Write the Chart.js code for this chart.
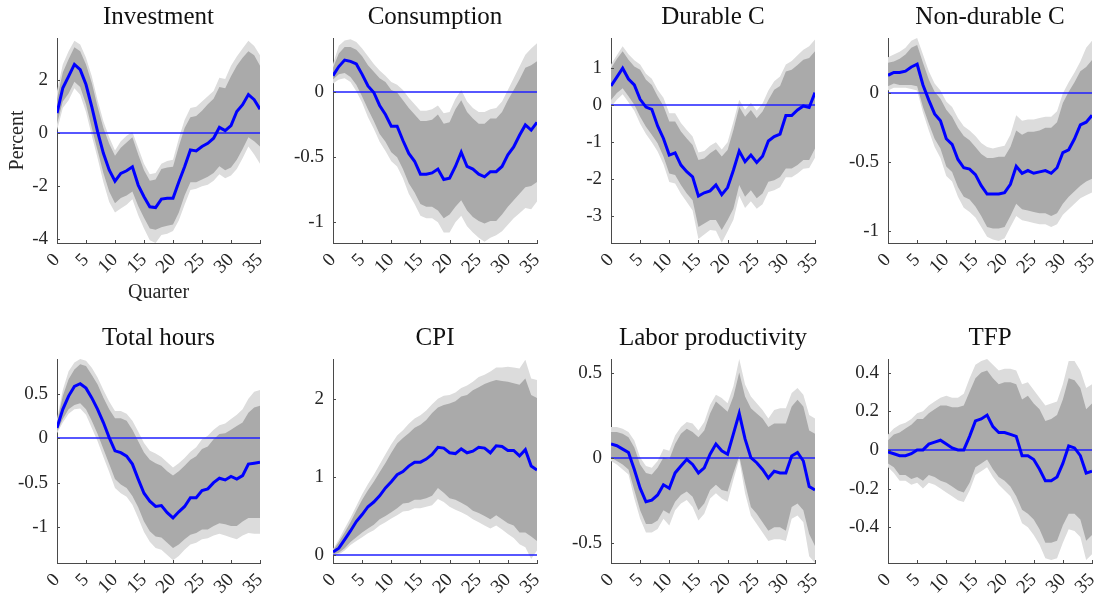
<!DOCTYPE html>
<html>
<head>
<meta charset="utf-8">
<script src="https://cdn.jsdelivr.net/npm/chart.js@4.4.0/dist/chart.umd.min.js"></script>
<style>
  body { margin: 0; background: #fff; }
  #wrap { position: relative; width: 1105px; height: 598px; overflow: hidden; }
  canvas { position: absolute; }
</style>
</head>
<body>
<div id="wrap"></div>
<script>
// horizon (quarters) and tick labels
const quarters = [0,1,2,3,4,5,6,7,8,9,10,11,12,13,14,15,16,17,18,19,20,21,22,23,24,25,26,27,28,29,30,31,32,33,34,35];
const xTicks = [0, 5, 10, 15, 20, 25, 30, 35];

// Investment
const invMid  = [0.76,1.71,2.15,2.6,2.4,1.84,1.0,0.06,-0.76,-1.39,-1.81,-1.52,-1.42,-1.27,-1.96,-2.4,-2.78,-2.81,-2.49,-2.46,-2.46,-1.84,-1.27,-0.63,-0.67,-0.5,-0.38,-0.19,0.22,0.1,0.29,0.82,1.08,1.46,1.27,0.91];
const invHi68 = [1.3,2.3,2.8,3.25,3.1,2.6,1.9,1.0,0.2,-0.4,-0.85,-0.55,-0.35,-0.15,-0.8,-1.4,-1.8,-1.75,-1.35,-1.3,-1.27,-0.5,0.2,0.6,0.65,0.85,1.1,1.3,1.75,1.7,2.15,2.55,2.85,3.1,2.95,2.55];
const invHi90 = [1.6,2.6,3.1,3.5,3.35,2.85,2.15,1.25,0.45,-0.15,-0.65,-0.3,-0.1,0.05,-0.55,-1.15,-1.55,-1.5,-1.15,-1.05,-1.0,-0.2,0.5,0.95,1.0,1.2,1.4,1.6,2.1,2.05,2.55,2.9,3.2,3.5,3.3,2.95];
const invLo68 = [0.35,1.2,1.5,1.95,1.75,1.1,0.2,-0.65,-1.5,-2.2,-2.65,-2.45,-2.35,-2.2,-2.75,-3.2,-3.6,-3.65,-3.55,-3.5,-3.45,-3.0,-2.35,-1.85,-1.85,-1.75,-1.65,-1.5,-1.25,-1.4,-1.3,-1.0,-0.6,-0.15,-0.3,-0.5];
const invLo90 = [0.1,0.95,1.25,1.7,1.45,0.8,-0.1,-0.95,-1.85,-2.6,-3.0,-2.85,-2.7,-2.5,-3.1,-3.6,-4.05,-4.15,-3.85,-3.8,-3.7,-3.3,-2.7,-2.15,-2.1,-2.0,-1.95,-1.8,-1.55,-1.7,-1.6,-1.35,-0.95,-0.5,-0.8,-1.15];

// Consumption
const conMid  = [0.13,0.2,0.25,0.24,0.22,0.14,0.05,0.0,-0.1,-0.17,-0.26,-0.26,-0.37,-0.47,-0.53,-0.63,-0.63,-0.62,-0.59,-0.67,-0.66,-0.57,-0.46,-0.57,-0.59,-0.63,-0.65,-0.61,-0.61,-0.57,-0.48,-0.42,-0.33,-0.25,-0.29,-0.23];
const conHi68 = [0.19,0.3,0.35,0.35,0.33,0.28,0.21,0.16,0.11,0.08,0.02,0.0,-0.06,-0.12,-0.17,-0.22,-0.22,-0.21,-0.17,-0.24,-0.23,-0.13,-0.06,-0.15,-0.2,-0.24,-0.24,-0.2,-0.2,-0.15,-0.06,0.02,0.1,0.19,0.21,0.24];
const conHi90 = [0.22,0.36,0.4,0.41,0.39,0.34,0.28,0.22,0.17,0.13,0.08,0.06,0.02,-0.04,-0.09,-0.14,-0.14,-0.13,-0.1,-0.16,-0.15,-0.05,0.02,-0.07,-0.12,-0.15,-0.15,-0.13,-0.12,-0.07,0.02,0.11,0.2,0.29,0.34,0.38];
const conLo68 = [0.1,0.14,0.15,0.12,0.06,-0.03,-0.13,-0.22,-0.32,-0.38,-0.46,-0.5,-0.59,-0.7,-0.77,-0.86,-0.88,-0.88,-0.91,-0.97,-0.94,-0.88,-0.83,-0.91,-0.96,-0.99,-1.01,-0.99,-0.99,-0.94,-0.88,-0.83,-0.78,-0.73,-0.72,-0.69];
const conLo90 = [0.07,0.1,0.11,0.08,0.01,-0.08,-0.19,-0.28,-0.38,-0.45,-0.53,-0.57,-0.66,-0.78,-0.86,-0.95,-0.97,-0.97,-1.0,-1.08,-1.08,-1.0,-0.95,-1.03,-1.08,-1.12,-1.15,-1.12,-1.1,-1.07,-1.02,-0.97,-0.93,-0.89,-0.9,-0.84];

// Durable C
const durMid  = [0.52,0.76,1.0,0.71,0.55,0.16,-0.05,-0.11,-0.56,-0.9,-1.35,-1.29,-1.62,-1.8,-1.94,-2.46,-2.37,-2.32,-2.16,-2.42,-2.23,-1.76,-1.24,-1.53,-1.35,-1.55,-1.38,-0.97,-0.85,-0.78,-0.28,-0.28,-0.13,-0.02,-0.06,0.34];
const durHi68 = [1.0,1.25,1.46,1.23,1.05,0.96,0.69,0.55,0.24,-0.02,-0.44,-0.44,-0.71,-0.9,-1.08,-1.48,-1.44,-1.3,-1.19,-1.39,-1.21,-0.67,-0.04,-0.31,-0.13,-0.35,-0.17,0.14,0.42,0.52,0.91,0.96,1.09,1.23,1.28,1.46];
const durHi90 = [1.1,1.35,1.6,1.38,1.22,1.1,0.85,0.72,0.42,0.2,-0.22,-0.22,-0.48,-0.67,-0.85,-1.28,-1.24,-1.1,-1.0,-1.2,-1.0,-0.45,0.15,-0.12,0.07,-0.14,0.05,0.4,0.65,0.78,1.1,1.2,1.35,1.5,1.6,1.78];
const durLo68 = [0.14,0.33,0.46,0.24,0.01,-0.31,-0.58,-0.8,-1.03,-1.39,-1.85,-1.89,-2.16,-2.39,-2.57,-3.3,-3.2,-3.11,-3.11,-3.38,-3.11,-2.8,-2.16,-2.48,-2.3,-2.52,-2.39,-2.07,-2.03,-1.94,-1.71,-1.71,-1.62,-1.48,-1.48,-1.17];
const durLo90 = [-0.05,0.15,0.3,0.08,-0.15,-0.5,-0.78,-1.0,-1.25,-1.6,-2.08,-2.12,-2.4,-2.62,-2.85,-3.62,-3.5,-3.38,-3.4,-3.72,-3.42,-3.1,-2.45,-2.78,-2.6,-2.8,-2.68,-2.35,-2.3,-2.22,-1.95,-1.95,-1.85,-1.72,-1.7,-1.42];

// Non-durable C
const ndMid  = [0.13,0.15,0.15,0.16,0.19,0.21,0.06,-0.05,-0.15,-0.2,-0.33,-0.37,-0.48,-0.54,-0.55,-0.59,-0.67,-0.73,-0.73,-0.73,-0.72,-0.66,-0.53,-0.58,-0.56,-0.58,-0.57,-0.56,-0.58,-0.54,-0.43,-0.41,-0.33,-0.23,-0.21,-0.16];
const ndHi68 = [0.22,0.23,0.25,0.28,0.33,0.35,0.22,0.1,0.01,-0.04,-0.12,-0.17,-0.25,-0.31,-0.34,-0.39,-0.44,-0.47,-0.47,-0.46,-0.46,-0.39,-0.27,-0.3,-0.28,-0.28,-0.27,-0.25,-0.25,-0.21,-0.07,0.01,0.08,0.16,0.19,0.24];
const ndHi90 = [0.26,0.28,0.3,0.33,0.38,0.4,0.28,0.16,0.07,0.02,-0.06,-0.1,-0.18,-0.24,-0.27,-0.31,-0.36,-0.39,-0.4,-0.39,-0.38,-0.3,-0.16,-0.2,-0.19,-0.19,-0.18,-0.17,-0.17,-0.13,0.0,0.08,0.15,0.23,0.33,0.38];
const ndLo68 = [0.05,0.07,0.06,0.06,0.06,0.05,-0.1,-0.22,-0.33,-0.4,-0.53,-0.57,-0.68,-0.75,-0.77,-0.82,-0.89,-0.97,-0.98,-0.98,-0.97,-0.89,-0.8,-0.84,-0.85,-0.86,-0.87,-0.87,-0.89,-0.87,-0.8,-0.75,-0.71,-0.67,-0.64,-0.62];
const ndLo90 = [0.02,0.04,0.04,0.04,0.03,0.02,-0.14,-0.27,-0.39,-0.47,-0.6,-0.64,-0.75,-0.83,-0.86,-0.9,-0.97,-1.04,-1.06,-1.07,-1.05,-0.97,-0.89,-0.92,-0.93,-0.94,-0.95,-0.95,-0.97,-0.95,-0.88,-0.84,-0.8,-0.76,-0.74,-0.72];

// Total hours
const hrsMid  = [0.12,0.33,0.48,0.59,0.62,0.57,0.46,0.33,0.18,0.01,-0.14,-0.16,-0.2,-0.29,-0.46,-0.62,-0.71,-0.77,-0.76,-0.84,-0.9,-0.83,-0.77,-0.67,-0.67,-0.59,-0.57,-0.5,-0.45,-0.47,-0.43,-0.46,-0.42,-0.29,-0.28,-0.27];
const hrsHi68 = [0.18,0.48,0.67,0.78,0.84,0.82,0.72,0.61,0.46,0.33,0.23,0.23,0.2,0.1,-0.03,-0.16,-0.24,-0.28,-0.31,-0.37,-0.42,-0.37,-0.31,-0.24,-0.2,-0.12,-0.09,-0.01,0.05,0.06,0.1,0.14,0.18,0.29,0.35,0.37];
const hrsHi90 = [0.22,0.55,0.76,0.86,0.9,0.88,0.8,0.69,0.55,0.42,0.31,0.31,0.28,0.2,0.08,-0.05,-0.14,-0.17,-0.21,-0.27,-0.33,-0.28,-0.22,-0.15,-0.1,-0.01,0.03,0.1,0.15,0.17,0.22,0.27,0.33,0.45,0.53,0.55];
const hrsLo68 = [0.08,0.22,0.33,0.38,0.4,0.33,0.2,0.05,-0.12,-0.29,-0.46,-0.52,-0.56,-0.65,-0.78,-0.94,-1.05,-1.11,-1.12,-1.18,-1.24,-1.2,-1.14,-1.09,-1.07,-1.03,-1.03,-0.99,-0.96,-0.97,-0.99,-0.99,-0.94,-0.9,-0.9,-0.9];
const hrsLo90 = [0.06,0.18,0.28,0.33,0.34,0.27,0.12,-0.03,-0.21,-0.38,-0.56,-0.62,-0.66,-0.75,-0.9,-1.06,-1.17,-1.24,-1.26,-1.32,-1.38,-1.33,-1.26,-1.2,-1.18,-1.14,-1.13,-1.1,-1.08,-1.1,-1.12,-1.14,-1.1,-1.07,-1.08,-1.08];

// CPI
const cpiMid  = [0.04,0.09,0.2,0.31,0.43,0.52,0.62,0.68,0.76,0.86,0.94,1.03,1.07,1.14,1.19,1.19,1.23,1.29,1.38,1.37,1.31,1.3,1.36,1.31,1.33,1.38,1.37,1.31,1.4,1.39,1.34,1.34,1.27,1.35,1.14,1.09];
const cpiHi68 = [0.06,0.17,0.29,0.42,0.57,0.71,0.83,0.94,1.06,1.18,1.31,1.43,1.5,1.56,1.63,1.67,1.73,1.82,1.89,1.92,1.94,1.97,2.03,2.05,2.11,2.15,2.19,2.22,2.24,2.23,2.22,2.2,2.18,2.26,2.05,2.01];
const cpiHi90 = [0.08,0.2,0.34,0.48,0.63,0.78,0.91,1.03,1.16,1.29,1.42,1.53,1.6,1.68,1.75,1.79,1.85,1.93,2.0,2.04,2.05,2.08,2.14,2.17,2.22,2.28,2.31,2.35,2.4,2.4,2.41,2.4,2.39,2.5,2.26,2.24];
const cpiLo68 = [0.01,0.03,0.09,0.17,0.23,0.29,0.34,0.39,0.46,0.5,0.55,0.6,0.66,0.67,0.71,0.71,0.73,0.76,0.86,0.8,0.73,0.71,0.67,0.63,0.57,0.54,0.5,0.46,0.51,0.46,0.41,0.38,0.29,0.29,0.24,0.18];
const cpiLo90 = [-0.01,0.01,0.06,0.13,0.18,0.23,0.28,0.32,0.38,0.42,0.47,0.51,0.56,0.57,0.6,0.6,0.62,0.64,0.72,0.68,0.62,0.58,0.55,0.51,0.46,0.42,0.38,0.34,0.38,0.33,0.27,0.22,0.14,0.1,-0.05,0.06];

// Labor productivity
const lpMid  = [0.08,0.07,0.05,0.03,-0.07,-0.18,-0.26,-0.25,-0.22,-0.16,-0.18,-0.09,-0.05,-0.01,-0.04,-0.09,-0.06,0.02,0.08,0.04,0.02,0.14,0.26,0.11,0.0,-0.03,-0.07,-0.12,-0.08,-0.09,-0.09,0.01,0.03,-0.02,-0.17,-0.19];
const lpHi68 = [0.15,0.15,0.14,0.12,0.06,-0.04,-0.09,-0.1,-0.06,0.0,-0.01,0.08,0.14,0.17,0.15,0.12,0.16,0.26,0.33,0.3,0.27,0.36,0.5,0.36,0.29,0.26,0.23,0.18,0.2,0.2,0.2,0.3,0.34,0.3,0.16,0.14];
const lpHi90 = [0.18,0.18,0.17,0.15,0.1,0.0,-0.05,-0.06,-0.02,0.05,0.04,0.13,0.18,0.21,0.2,0.16,0.21,0.31,0.37,0.35,0.32,0.42,0.58,0.43,0.36,0.32,0.28,0.23,0.28,0.29,0.29,0.38,0.41,0.37,0.25,0.23];
const lpLo68 = [0.0,-0.02,-0.04,-0.07,-0.19,-0.31,-0.39,-0.39,-0.37,-0.31,-0.33,-0.26,-0.22,-0.2,-0.23,-0.31,-0.27,-0.19,-0.16,-0.19,-0.2,-0.09,0.01,-0.15,-0.29,-0.33,-0.38,-0.43,-0.41,-0.41,-0.43,-0.29,-0.27,-0.31,-0.45,-0.52];
const lpLo90 = [-0.02,-0.04,-0.07,-0.1,-0.24,-0.36,-0.44,-0.44,-0.42,-0.36,-0.4,-0.31,-0.27,-0.25,-0.29,-0.37,-0.33,-0.24,-0.21,-0.24,-0.26,-0.13,-0.01,-0.21,-0.34,-0.39,-0.44,-0.49,-0.48,-0.48,-0.49,-0.36,-0.34,-0.38,-0.58,-0.62];

// TFP
const tfpMid  = [-0.01,-0.02,-0.03,-0.03,-0.02,0.0,0.0,0.03,0.04,0.05,0.03,0.01,0.0,0.0,0.07,0.15,0.16,0.18,0.12,0.09,0.09,0.08,0.07,-0.03,-0.03,-0.05,-0.1,-0.16,-0.16,-0.14,-0.07,0.02,0.01,-0.03,-0.12,-0.11];
const tfpHi68 = [0.05,0.08,0.09,0.11,0.13,0.16,0.16,0.19,0.21,0.23,0.23,0.22,0.22,0.23,0.3,0.37,0.4,0.41,0.37,0.34,0.35,0.35,0.34,0.26,0.28,0.24,0.21,0.15,0.16,0.18,0.26,0.37,0.36,0.32,0.21,0.24];
const tfpHi90 = [0.08,0.11,0.13,0.14,0.16,0.19,0.2,0.23,0.25,0.27,0.28,0.27,0.27,0.29,0.37,0.44,0.46,0.47,0.44,0.41,0.42,0.42,0.41,0.34,0.35,0.31,0.27,0.23,0.24,0.25,0.34,0.46,0.46,0.41,0.32,0.34];
const tfpLo68 = [-0.07,-0.09,-0.13,-0.13,-0.15,-0.14,-0.16,-0.13,-0.14,-0.16,-0.17,-0.19,-0.21,-0.22,-0.17,-0.09,-0.07,-0.05,-0.1,-0.14,-0.16,-0.19,-0.24,-0.31,-0.33,-0.36,-0.41,-0.48,-0.48,-0.47,-0.39,-0.33,-0.33,-0.36,-0.47,-0.44];
const tfpLo90 = [-0.09,-0.12,-0.16,-0.16,-0.18,-0.17,-0.2,-0.17,-0.18,-0.2,-0.22,-0.24,-0.26,-0.27,-0.21,-0.13,-0.11,-0.09,-0.14,-0.18,-0.21,-0.24,-0.3,-0.38,-0.4,-0.44,-0.49,-0.56,-0.57,-0.56,-0.48,-0.41,-0.42,-0.45,-0.57,-0.54];

// y tick labels per panel
const invTicks = [-4, -2, 0, 2];
const conTicks = [-1, -0.5, 0];
const durTicks = [-3, -2, -1, 0, 1];
const ndTicks  = [-1, -0.5, 0];
const hrsTicks = [-1, -0.5, 0, 0.5];
const cpiTicks = [0, 1, 2];
const lpTicks  = [-0.5, 0, 0.5];
const tfpTicks = [-0.4, -0.2, 0, 0.2, 0.4];

const FONT = '"Liberation Serif", "Times New Roman", serif';
const AXIS = '#4a4a4a';
const TEXT = '#262626';

// plot boxes [left, top, right, bottom] in page pixels
const panels = [
  { title: 'Investment',          mid: invMid, hi68: invHi68, lo68: invLo68, hi90: invHi90, lo90: invLo90, ticks: invTicks, ymin: -4.15, ymax: 3.6,  box: [57, 38, 260, 243], labels: true },
  { title: 'Consumption',         mid: conMid, hi68: conHi68, lo68: conLo68, hi90: conHi90, lo90: conLo90, ticks: conTicks, ymin: -1.16, ymax: 0.42, box: [333, 38, 537, 243] },
  { title: 'Durable C',           mid: durMid, hi68: durHi68, lo68: durLo68, hi90: durHi90, lo90: durLo90, ticks: durTicks, ymin: -3.73, ymax: 1.82, box: [611, 38, 815, 243] },
  { title: 'Non-durable C',       mid: ndMid,  hi68: ndHi68,  lo68: ndLo68,  hi90: ndHi90,  lo90: ndLo90,  ticks: ndTicks,  ymin: -1.085, ymax: 0.40, box: [888, 38, 1092, 243] },
  { title: 'Total hours',         mid: hrsMid, hi68: hrsHi68, lo68: hrsLo68, hi90: hrsHi90, lo90: hrsLo90, ticks: hrsTicks, ymin: -1.41, ymax: 0.90, box: [57, 359, 260, 563] },
  { title: 'CPI',                 mid: cpiMid, hi68: cpiHi68, lo68: cpiLo68, hi90: cpiHi90, lo90: cpiLo90, ticks: cpiTicks, ymin: -0.1,  ymax: 2.51, box: [333, 359, 537, 563] },
  { title: 'Labor productivity',  mid: lpMid,  hi68: lpHi68,  lo68: lpLo68,  hi90: lpHi90,  lo90: lpLo90,  ticks: lpTicks,  ymin: -0.62, ymax: 0.58, box: [611, 359, 815, 563] },
  { title: 'TFP',                 mid: tfpMid, hi68: tfpHi68, lo68: tfpLo68, hi90: tfpHi90, lo90: tfpLo90, ticks: tfpTicks, ymin: -0.585, ymax: 0.47, box: [888, 359, 1092, 563] }
];

const LEFT = 57, TOP = 38, BOTTOM = 67, RIGHT = 12;

// zero line under the mean line, and MATLAB-style inward ticks
const frame = {
  id: 'frame',
  beforeDatasetDraw(chart, args) {
    if (args.index !== 0) return;
    const { ctx, chartArea: a } = chart;
    const py = Math.round(chart.scales.y.getPixelForValue(0));
    ctx.save();
    ctx.strokeStyle = '#1f1fff';
    ctx.lineWidth = 1.3;
    ctx.beginPath();
    ctx.moveTo(a.left, py);
    ctx.lineTo(a.right, py);
    ctx.stroke();
    ctx.restore();
  },
  afterDraw(chart) {
    const { ctx, chartArea: a, scales: { x, y } } = chart;
    ctx.save();
    ctx.strokeStyle = AXIS;
    ctx.lineWidth = 1;
    ctx.beginPath();
    x.ticks.forEach(t => {
      const px = Math.round(x.getPixelForValue(t.value)) + 0.5;
      ctx.moveTo(px, a.bottom);
      ctx.lineTo(px, a.bottom - 3);
    });
    y.ticks.forEach(t => {
      const py = Math.round(y.getPixelForValue(t.value)) + 0.5;
      ctx.moveTo(a.left, py);
      ctx.lineTo(a.left + 3, py);
    });
    ctx.stroke();
    ctx.restore();
  }
};

const wrap = document.getElementById('wrap');

panels.forEach(p => {
  const [l, t, r, b] = p.box;
  const canvas = document.createElement('canvas');
  canvas.width = LEFT + (r - l) + RIGHT;
  canvas.height = TOP + (b - t) + BOTTOM;
  canvas.style.left = (l - LEFT) + 'px';
  canvas.style.top = (t - TOP) + 'px';
  wrap.appendChild(canvas);

  const band = (data, color, fill) => ({
    data: data, borderWidth: 0, borderColor: 'transparent', pointRadius: 0, backgroundColor: color, fill: fill
  });

  new Chart(canvas, {
    type: 'line',
    data: {
      labels: quarters,
      datasets: [
        { data: p.mid, borderColor: '#0000ff', borderWidth: 3, pointRadius: 0, fill: false, tension: 0 },
        band(p.hi68, '#aaaaaa', '+1'),
        band(p.lo68, '#aaaaaa', false),
        band(p.hi90, '#dcdcdc', '+1'),
        band(p.lo90, '#dcdcdc', false)
      ]
    },
    options: {
      responsive: false,
      animation: false,
      layout: { padding: { top: 0, left: 0, right: RIGHT, bottom: 0 } },
      plugins: {
        legend: { display: false },
        tooltip: { enabled: false },
        title: {
          display: true,
          text: p.title,
          fullSize: false,
          color: '#111',
          font: { family: FONT, size: 25, weight: 'normal', lineHeight: 1.2 },
          padding: { top: 2, bottom: 6 }
        }
      },
      scales: {
        x: {
          type: 'linear',
          min: 0,
          max: 35,
          afterBuildTicks: s => { s.ticks = xTicks.map(v => ({ value: v })); },
          afterFit: s => { s.height = BOTTOM; s.paddingLeft = 0; s.paddingRight = 0; },
          grid: { display: false, drawTicks: false },
          border: { color: AXIS, width: 1 },
          ticks: {
            autoSkip: false, minRotation: 45, maxRotation: 45, padding: 6,
            color: TEXT, font: { family: FONT, size: 19 },
            callback: v => String(v)
          },
          title: {
            display: !!p.labels, text: 'Quarter', color: TEXT,
            font: { family: FONT, size: 20 }, padding: { top: 0, bottom: 5 }
          }
        },
        y: {
          min: p.ymin,
          max: p.ymax,
          afterBuildTicks: s => { s.ticks = p.ticks.map(v => ({ value: v })); },
          afterFit: s => { s.width = LEFT; s.paddingTop = 0; s.paddingBottom = 0; },
          grid: { display: false, drawTicks: false },
          border: { color: AXIS, width: 1 },
          ticks: { padding: 9, color: TEXT, font: { family: FONT, size: 19 }, callback: v => String(v) },
          title: {
            display: !!p.labels, text: 'Percent', color: TEXT,
            font: { family: FONT, size: 20 }, padding: { top: 6, bottom: 0 }
          }
        }
      }
    },
    plugins: [frame]
  });
});
</script>
</body>
</html>
